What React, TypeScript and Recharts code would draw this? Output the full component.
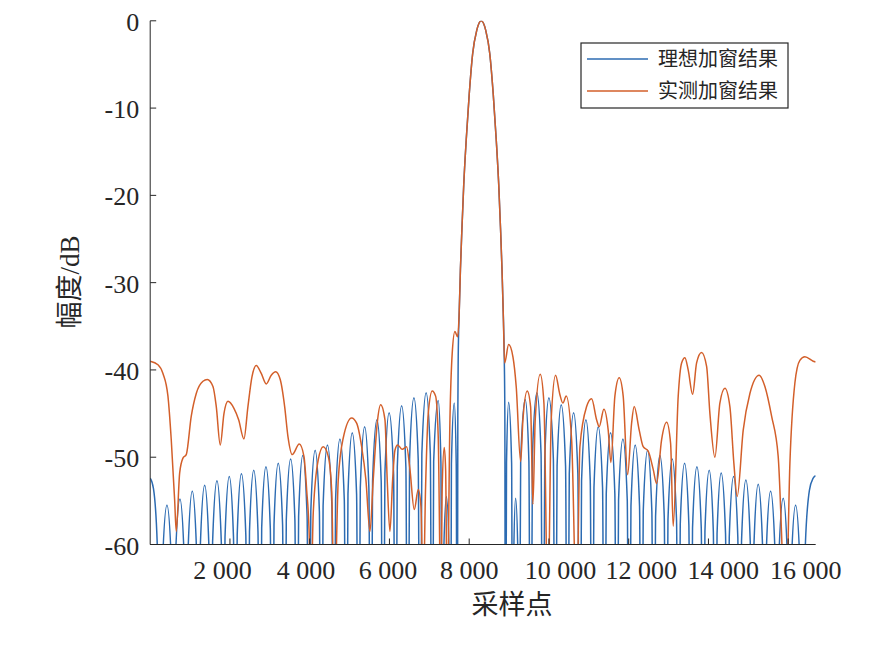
import { LineChart, Line, XAxis, YAxis } from "recharts";

// axis ticks
const xTicks = [2000, 4000, 6000, 8000, 10000, 12000, 14000, 16000];
const yTicks = [-60, -50, -40, -30, -20, -10, 0];
const xDomain = [0, 16690];

type Pt = [number, number];

// 理想加窗结果 — sidelobes left of the main lobe: [sample, dB]
const idealLeft: Pt[] = [
  [0, -52.4], [82, -53.6], [177, -60], [257, -90],
  [306, -62.5], [420, -55.5], [534, -62.5], [583, -90],
  [631, -61.8], [746, -54.8], [854, -61.8], [902, -90],
  [948, -60.9], [1055, -53.9], [1164, -60.9], [1210, -90],
  [1257, -60.2], [1366, -53.2], [1472, -60.2], [1519, -90],
  [1565, -59.7], [1674, -52.7], [1783, -59.7], [1830, -90],
  [1876, -59.2], [1983, -52.2], [2089, -59.2], [2136, -90],
  [2182, -58.9], [2288, -51.9], [2398, -58.9], [2444, -90],
  [2490, -58.5], [2597, -51.5], [2703, -58.5], [2750, -90],
  [2796, -58.1], [2903, -51.1], [3012, -58.1], [3058, -90],
  [3105, -57.7], [3211, -50.7], [3320, -57.7], [3367, -90],
  [3413, -57.2], [3522, -50.2], [3629, -57.2], [3675, -90],
  [3722, -56.8], [3826, -49.8], [3935, -56.8], [3981, -90],
  [4028, -56.2], [4137, -49.2], [4243, -56.2], [4290, -90],
  [4336, -55.6], [4445, -48.6], [4557, -55.6], [4603, -90],
  [4649, -54.9], [4758, -47.9], [4868, -54.9], [4914, -90],
  [4960, -54.2], [5067, -47.2], [5176, -54.2], [5222, -90],
  [5269, -53.5], [5378, -46.5], [5484, -53.5], [5531, -90],
  [5577, -52.7], [5686, -45.7], [5793, -52.7], [5839, -90],
  [5886, -51.9], [5992, -44.9], [6104, -51.9], [6150, -90],
  [6197, -51.1], [6306, -44.1], [6412, -51.1], [6459, -90],
  [6505, -50.2], [6614, -43.2], [6721, -50.2], [6767, -90],
  [6813, -49.6], [6920, -42.6], [7025, -49.6], [7070, -90],
  [7109, -50.5], [7223, -43.5], [7290, -50.5], [7329, -90],
  [7359, -61.5], [7429, -54.5], [7499, -61.5], [7529, -90],
  [7554, -50.8], [7625, -43.8], [7675, -50.8], [7700, -90],
  [7715, -45], [7725, -38.5],
];

// main lobe, shared by both curves
const mainLobe: Pt[] = [
  [7750, -33.3], [7780, -28.5], [7818, -23.8], [7863, -18.8], [7926, -13.6],
  [8001, -8.4], [8086, -3.8], [8189, -1.1], [8302, 0], [8415, -1.1],
  [8517, -3.8], [8603, -8.4], [8678, -13.6], [8741, -18.8], [8786, -23.8],
  [8823, -28.5], [8853, -33.3],
];

// 理想加窗结果 — sidelobes right of the main lobe
const idealRight: Pt[] = [
  [8879, -38.5], [8894, -45], [8909, -90],
  [8936, -50.7], [8989, -43.7], [9064, -50.7], [9092, -90],
  [9115, -61.7], [9164, -54.7], [9224, -61.7], [9247, -90],
  [9291, -50.4], [9405, -43.4], [9497, -50.4], [9540, -90],
  [9587, -49.6], [9698, -42.6], [9802, -49.6], [9849, -90],
  [9895, -50.2], [9999, -43.2], [10111, -50.2], [10157, -90],
  [10204, -51.0], [10308, -44.0], [10417, -51.0], [10463, -90],
  [10510, -51.9], [10619, -44.9], [10725, -51.9], [10772, -90],
  [10818, -52.7], [10927, -45.7], [11036, -52.7], [11083, -90],
  [11129, -53.5], [11236, -46.5], [11345, -53.5], [11391, -90],
  [11437, -54.2], [11546, -47.2], [11653, -54.2], [11699, -90],
  [11746, -54.9], [11855, -47.9], [11964, -54.9], [12010, -90],
  [12057, -55.6], [12163, -48.6], [12272, -55.6], [12319, -90],
  [12365, -56.2], [12474, -49.2], [12581, -56.2], [12627, -90],
  [12674, -56.8], [12783, -49.8], [12892, -56.8], [12938, -90],
  [12985, -57.2], [13091, -50.2], [13200, -57.2], [13247, -90],
  [13293, -57.7], [13402, -50.7], [13509, -57.7], [13555, -90],
  [13601, -58.1], [13711, -51.1], [13820, -58.1], [13866, -90],
  [13912, -58.5], [14019, -51.5], [14123, -58.5], [14169, -90],
  [14216, -58.8], [14320, -51.8], [14429, -58.8], [14475, -90],
  [14522, -59.2], [14631, -52.2], [14737, -59.2], [14784, -90],
  [14830, -59.6], [14939, -52.6], [15048, -59.6], [15095, -90],
  [15141, -60.1], [15248, -53.1], [15357, -60.1], [15403, -90],
  [15450, -60.9], [15559, -53.9], [15670, -60.9], [15717, -90],
  [15764, -61.7], [15875, -54.7], [15982, -61.7], [16030, -90],
  [16078, -62.5], [16186, -55.5], [16296, -62.5], [16343, -90],
  [16431, -60], [16532, -53.8], [16627, -52.4], [16687, -52.1],
];

// 实测加窗结果
const measuredLeft: Pt[] = [
  [0, -39.0], [195, -39.4], [320, -40.4], [445, -43.0], [528, -48.0], [613, -54.9],
  [653, -58.5], [739, -51.8], [821, -50.1], [904, -49.7], [1030, -45.3], [1155, -42.7],
  [1323, -41.3], [1431, -41.1], [1574, -41.9], [1657, -44.2], [1757, -48.6], [1850, -45.0],
  [1950, -43.6], [2100, -44.4], [2218, -45.7], [2351, -47.9], [2451, -44.2], [2552, -40.8],
  [2660, -39.5], [2785, -40.4], [2910, -41.6], [3036, -40.6], [3146, -40.2], [3261, -41.1],
  [3372, -44.2], [3454, -47.6], [3562, -49.7], [3738, -48.5], [3856, -49.9], [3923, -53.7],
  [3989, -59.1], [4024, -68], [4089, -56.4], [4214, -50.3], [4340, -48.8], [4465, -49.9],
  [4550, -53.7], [4616, -68], [4716, -52.6], [4841, -47.8], [5052, -45.5], [5177, -46.1],
  [5303, -48.8], [5410, -52.6], [5511, -58.5], [5593, -52.6], [5694, -46.1], [5779, -44.0],
  [5887, -45.7], [5944, -52.6], [6012, -58.5], [6080, -52.6], [6138, -49.2], [6205, -48.6],
  [6321, -49.1], [6431, -48.8], [6514, -51.4], [6622, -56.0], [6722, -53.7], [6790, -55.6],
  [6847, -66], [6907, -53.3], [6973, -45.0], [7073, -42.4], [7158, -43.0], [7223, -47.6],
  [7291, -68], [7324, -53.3], [7374, -48.9], [7409, -51.4], [7449, -68], [7517, -45.7],
  [7574, -38.1], [7642, -35.6], [7710, -36.2],
];

const measuredRight: Pt[] = [
  [8889, -39.2], [8989, -37.1], [9097, -38.5], [9179, -41.9], [9290, -50.5], [9348, -45.7],
  [9455, -42.4], [9540, -44.2], [9598, -55.4], [9656, -45.7], [9781, -40.5], [9874, -43.8],
  [9974, -68], [10057, -45.7], [10167, -40.6], [10268, -42.7], [10350, -43.8], [10433, -43.0],
  [10569, -48.0], [10694, -68], [10777, -48.8], [10945, -44.2], [11070, -43.3], [11195, -45.7],
  [11261, -46.5], [11378, -44.5], [11486, -46.9], [11554, -50.6], [11654, -43.0], [11762, -40.9],
  [11862, -43.0], [11973, -52.0], [12073, -46.1], [12138, -44.2], [12264, -46.9], [12364, -48.8],
  [12489, -49.3], [12615, -51.4], [12700, -53.0], [12825, -48.0], [12951, -46.0], [13051, -48.4],
  [13116, -57.9], [13242, -43.0], [13327, -39.2], [13410, -38.6], [13492, -40.0], [13603, -42.8],
  [13703, -39.2], [13828, -38.0], [13954, -39.6], [14037, -45.0], [14162, -50.0], [14287, -43.8],
  [14413, -42.1], [14538, -44.2], [14638, -50.7], [14721, -54.5], [14872, -46.9], [15040, -42.7],
  [15273, -40.6], [15416, -41.9], [15584, -45.3], [15749, -49.9], [15942, -68], [16043, -50.7],
  [16168, -41.5], [16293, -38.9], [16419, -38.5], [16627, -39.0], [16687, -39.1],
];

const toRows = (pts: Pt[]) => pts.map(([x, v]) => ({ x, v }));
const idealData = toRows([...idealLeft, ...mainLobe, ...idealRight]);
const measuredData = toRows([...measuredLeft, ...mainLobe, ...measuredRight]);

const AXIS = "#262626";
const BLUE = "#2C6BB2";
const ORANGE = "#D35F2A";
const SERIF = '"Liberation Serif", "Times New Roman", serif';
const CJK = '"Liberation Serif", "Noto Sans CJK SC", sans-serif';

// label centres drift a little from their ticks in the original
const xLabelShift = [-7.5, -3.8, -1.5, 0, 11.6, 12.6, 14.7, 17.6];

const fmtX = (v: number) => String(v).replace(/\B(?=(\d{3})+(?!\d))/g, " ");

function BottomTick(props: any) {
  const { x, y, payload } = props;
  const i = xTicks.indexOf(payload.value);
  return (
    <g>
      <line x1={x} y1={y} x2={x} y2={y - 6} stroke={AXIS} />
      <text
        x={x + (xLabelShift[i] ?? 0)}
        y={y + 34}
        textAnchor="middle"
        fontSize={26}
        fontFamily={SERIF}
        fill={AXIS}
      >
        {fmtX(payload.value)}
      </text>
    </g>
  );
}

function TopTick(props: any) {
  const { x, y } = props;
  return <line x1={x} y1={y} x2={x} y2={y + 6} stroke={AXIS} />;
}

function LeftTick(props: any) {
  const { x, y, payload } = props;
  return (
    <g>
      <line x1={x} y1={y} x2={x + 6} y2={y} stroke={AXIS} />
      <text x={x - 11} y={y + 10} textAnchor="end" fontSize={26} fontFamily={SERIF} fill={AXIS}>
        {payload.value}
      </text>
    </g>
  );
}

function RightTick(props: any) {
  const { x, y } = props;
  return <line x1={x} y1={y} x2={x - 6} y2={y} stroke={AXIS} />;
}

function LegendBox() {
  return (
    <svg width={210} height={68} style={{ position: "absolute", left: 572, top: 34 }}>
      <rect x={1} y={1} width={207} height={65} fill="#fff" stroke={AXIS} strokeWidth={1.2} />
      <line x1={7} y1={17} x2={68} y2={17} stroke={BLUE} strokeWidth={1.5} />
      <line x1={7} y1={49} x2={68} y2={49} stroke={ORANGE} strokeWidth={1.5} />
      <text x={78} y={17} dominantBaseline="central" fontSize={20} fontFamily={CJK} fill={AXIS}>
        理想加窗结果
      </text>
      <text x={78} y={49} dominantBaseline="central" fontSize={20} fontFamily={CJK} fill={AXIS}>
        实测加窗结果
      </text>
    </svg>
  );
}

export default function App() {
  return (
    <div style={{ position: "relative", width: 888, height: 637, background: "#fff" }}>
      <LineChart
        width={888}
        height={637}
        margin={{ top: 12.8, right: 80.3, bottom: 40.5, left: 42.2 }}
      >
        <XAxis
          xAxisId="b"
          dataKey="x"
          type="number"
          domain={xDomain}
          ticks={xTicks}
          interval={0}
          allowDataOverflow
          height={60}
          tickSize={0}
          tickMargin={0}
          tickLine={false}
          axisLine={{ stroke: AXIS }}
          tick={BottomTick}
        />
        <XAxis
          xAxisId="t"
          orientation="top"
          type="number"
          domain={xDomain}
          ticks={xTicks}
          interval={0}
          allowDataOverflow
          height={0}
          tickSize={0}
          tickMargin={0}
          tickLine={false}
          axisLine={{ stroke: AXIS }}
          tick={TopTick}
        />
        <YAxis
          yAxisId="l"
          type="number"
          domain={[-60, 0]}
          ticks={yTicks}
          interval={0}
          allowDataOverflow
          width={100}
          tickSize={0}
          tickMargin={0}
          tickLine={false}
          axisLine={{ stroke: AXIS }}
          tick={LeftTick}
        />
        <YAxis
          yAxisId="r"
          orientation="right"
          type="number"
          domain={[-60, 0]}
          ticks={yTicks}
          interval={0}
          allowDataOverflow
          width={0}
          tickSize={0}
          tickMargin={0}
          tickLine={false}
          axisLine={{ stroke: AXIS }}
          tick={RightTick}
        />
        <Line
          xAxisId="b"
          yAxisId="l"
          data={idealData}
          dataKey="v"
          type="monotone"
          stroke={BLUE}
          strokeWidth={1.5}
          dot={false}
          activeDot={false}
          isAnimationActive={false}
        />
        <Line
          xAxisId="b"
          yAxisId="l"
          data={measuredData}
          dataKey="v"
          type="monotone"
          stroke={ORANGE}
          strokeWidth={1.5}
          dot={false}
          activeDot={false}
          isAnimationActive={false}
        />
      </LineChart>
      <div
        style={{
          position: "absolute",
          left: 504,
          top: 597,
          transform: "translate(-50%, -50%)",
          fontFamily: CJK,
          fontSize: 27,
          lineHeight: 1,
          color: AXIS,
          whiteSpace: "nowrap",
        }}
      >
        采样点
      </div>
      <div
        style={{
          position: "absolute",
          left: 62,
          top: 274,
          transform: "translate(-50%, -50%) rotate(-90deg)",
          fontFamily: CJK,
          fontSize: 27,
          lineHeight: 1,
          color: AXIS,
          whiteSpace: "nowrap",
        }}
      >
        幅度/dB
      </div>
      <LegendBox />
    </div>
  );
}
